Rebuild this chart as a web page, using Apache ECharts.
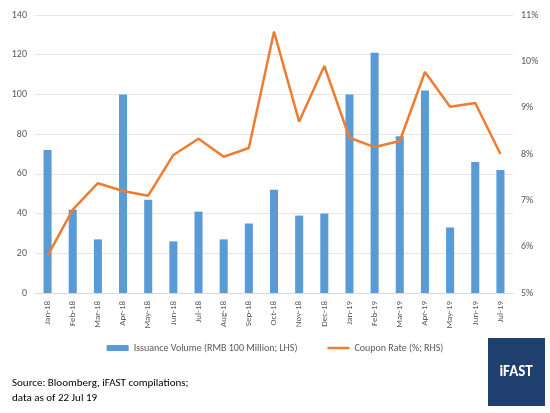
<!DOCTYPE html>
<html><head><meta charset="utf-8">
<script src="https://cdn.jsdelivr.net/npm/echarts@6/dist/echarts.min.js"></script>
<style>html,body{margin:0;padding:0;background:#fff}#c{width:550px;height:413px}</style>
</head><body><div id="c"></div>
<script>
const categories=['Jan-18','Feb-18','Mar-18','Apr-18','May-18','Jun-18','Jul-18','Aug-18','Sep-18','Oct-18','Nov-18','Dec-18','Jan-19','Feb-19','Mar-19','Apr-19','May-19','Jun-19','Jul-19'];
const volume=[72,42,27,100,47,26,41,27,35,52,39,40,100,121,79,102,33,66,62];
const coupon=[5.8,6.8,7.37,7.2,7.1,7.98,8.33,7.94,8.13,10.64,8.7,9.9,8.35,8.15,8.28,9.77,9.02,9.1,8.0];
const chart=echarts.init(document.getElementById('c'));
const f='Calibri, "Liberation Sans", "DejaVu Sans", sans-serif';
chart.setOption({
 animation:false,
 textStyle:{fontFamily:f},
 grid:{left:35,right:37,top:15,bottom:120},
 legend:{bottom:55,left:'center',itemWidth:22,itemHeight:6,itemGap:30,textStyle:{fontSize:10,color:'#595959'},
  data:[{name:'Issuance Volume (RMB 100 Million; LHS)',icon:'rect'},{name:'Coupon Rate (%; RHS)',icon:'path://M0,0 L22,0 L22,2.5 L0,2.5 Z',itemStyle:{color:'#ED7D31'}}]},
 xAxis:{type:'category',data:categories,axisTick:{show:false},axisLine:{lineStyle:{color:'#d9d9d9'}},
  axisLabel:{rotate:90,interval:0,fontSize:9,color:'#595959'}},
 yAxis:[
  {type:'value',min:0,max:140,interval:20,axisLabel:{fontSize:10,color:'#595959'},splitLine:{lineStyle:{color:'#e6e6e6'}}},
  {type:'value',min:5,max:11,interval:1,axisLabel:{fontSize:10,color:'#595959',formatter:v=>v+'%'},splitLine:{show:false}}
 ],
 series:[
  {name:'Issuance Volume (RMB 100 Million; LHS)',type:'bar',data:volume,barWidth:'32%',itemStyle:{color:'#5B9BD5'}},
  {name:'Coupon Rate (%; RHS)',type:'line',yAxisIndex:1,data:coupon,symbol:'none',lineStyle:{color:'#ED7D31',width:2.5},itemStyle:{color:'#ED7D31'}}
 ],
 graphic:[
  {type:'text',left:12,top:376,style:{text:'Source: Bloomberg, iFAST compilations;\ndata as of 22 Jul 19',fontSize:11,lineHeight:15,fill:'#000',fontFamily:f}},
  {type:'rect',shape:{x:488,y:338,width:57,height:68},style:{fill:'#1f3f6e'}},
  {type:'text',x:516,y:372,style:{text:'iFAST',fontSize:15,fontWeight:'bold',fill:'#fff',align:'center',verticalAlign:'middle',fontFamily:f}}
 ]
});
</script></body></html>
